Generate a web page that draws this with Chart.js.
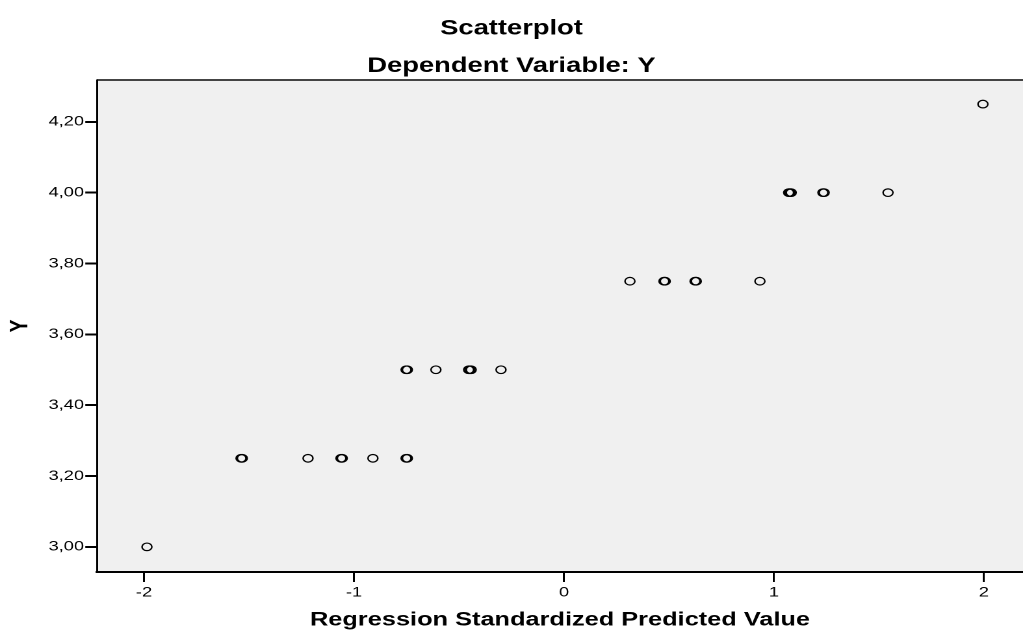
<!DOCTYPE html>
<html>
<head>
<meta charset="utf-8">
<title>Scatterplot</title>
<script src="https://cdn.jsdelivr.net/npm/chart.js@4/dist/chart.umd.min.js"></script>
<style>
  html, body { margin:0; padding:0; background:#fff; overflow:hidden; }
  /* the original SPSS picture is stretched sideways, so the chart is drawn narrower and widened */
  #wrap { width:787px; height:630px; transform:scaleX(1.2999); transform-origin:0 0; }
</style>
</head>
<body>
<div id="wrap"><canvas id="grafica" width="787" height="630"></canvas></div>
<script>
// valores
const predictedValue = [
  -1.986,
  -1.538, -1.532, -1.219, -1.062, -1.056, -0.910, -0.752, -0.746,
  -0.752, -0.746, -0.610, -0.448, -0.442, -0.454, -0.300,
   0.314,  0.476,  0.482,  0.624,  0.630,  0.933,
   1.076,  1.082,  1.070,  1.233,  1.239,  1.543,
   1.995
];
const observedY = [
  3.00,
  3.25, 3.25, 3.25, 3.25, 3.25, 3.25, 3.25, 3.25,
  3.50, 3.50, 3.50, 3.50, 3.50, 3.50, 3.50,
  3.75, 3.75, 3.75, 3.75, 3.75, 3.75,
  4.00, 4.00, 4.00, 4.00, 4.00, 4.00,
  4.25
];
const xTicks = [-2, -1, 0, 1, 2];
const yTicks = [3.00, 3.20, 3.40, 3.60, 3.80, 4.00, 4.20];

const puntos = predictedValue.map((x, i) => ({ x: x, y: observedY[i] }));

// fondo gris y linea superior del area
const fondoPlot = {
  id: "fondoPlot",
  beforeDraw(chart){
    const { ctx, chartArea:a } = chart;
    ctx.save();
    ctx.fillStyle = "#f0f0f0";
    ctx.fillRect(a.left, a.top, a.right - a.left, a.bottom - a.top);
    ctx.strokeStyle = "#444";
    ctx.lineWidth = 2;
    ctx.beginPath();
    ctx.moveTo(a.left, a.top);
    ctx.lineTo(a.right, a.top);
    ctx.stroke();
    ctx.restore();
  }
};

const fuente = "'Liberation Sans', Arial, sans-serif";

new Chart(document.getElementById("grafica"), {
  type: "scatter",
  data: {
    datasets: [{
      data: puntos,
      pointRadius: 3.8,
      pointBorderWidth: 1.2,
      pointBorderColor: "#000",
      pointBackgroundColor: "rgba(0,0,0,0)"
    }]
  },
  options: {
    responsive: false,
    animation: false,
    devicePixelRatio: 2,
    events: [],
    layout: { padding: 0, autoPadding: false },
    plugins: {
      legend: { display: false },
      tooltip: { enabled: false },
      title: {
        display: true,
        text: "Scatterplot",
        color: "#000",
        font: { family: fuente, size: 21, weight: "bold", lineHeight: 1.2 },
        padding: { top: 16, bottom: 0 }
      },
      subtitle: {
        display: true,
        text: "Dependent Variable: Y",
        color: "#000",
        font: { family: fuente, size: 21, weight: "bold", lineHeight: 1.2 },
        padding: { top: 12.5, bottom: 1.1 }
      }
    },
    scales: {
      x: {
        type: "linear",
        min: -2.224,
        max: 2.186,
        afterBuildTicks: s => { s.ticks = xTicks.map(v => ({ value: v })); },
        afterFit: s => { s.height = 58; s.paddingLeft = 0; s.paddingRight = 0; },
        ticks: {
          color: "#000",
          padding: 2,
          font: { family: fuente, size: 14 },
          callback: v => String(v)
        },
        grid: { drawOnChartArea: false, drawTicks: true, tickLength: 10, color: "#000", lineWidth: 1.5 },
        border: { display: true, color: "#000", width: 2 },
        title: {
          display: true,
          text: "Regression Standardized Predicted Value",
          color: "#000",
          font: { family: fuente, size: 19.5, weight: "bold", lineHeight: 1 },
          padding: { top: 0, bottom: 0 }
        }
      },
      y: {
        type: "linear",
        min: 2.929,
        max: 4.318,
        afterBuildTicks: s => { s.ticks = yTicks.map(v => ({ value: v })); },
        afterFit: s => { s.width = 74.6; },
        ticks: {
          color: "#000",
          padding: 1,
          font: { family: fuente, size: 14 },
          callback: v => v.toFixed(2).replace(".", ",")
        },
        grid: { drawOnChartArea: false, drawTicks: true, tickLength: 9, color: "#000", lineWidth: 2 },
        border: { display: true, color: "#000", width: 1.5 },
        title: {
          display: true,
          text: "Y",
          color: "#000",
          font: { family: fuente, size: 19.5, weight: "bold", lineHeight: 1 },
          padding: { top: 6, bottom: 0 }
        }
      }
    }
  },
  plugins: [fondoPlot]
});
</script>
</body>
</html>
